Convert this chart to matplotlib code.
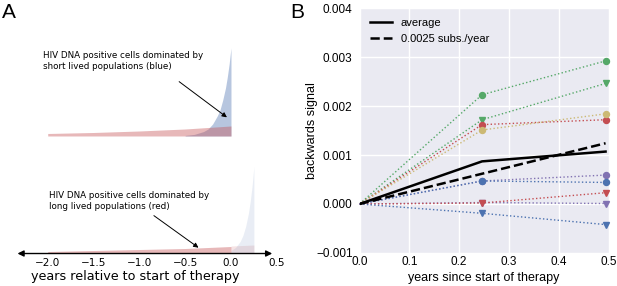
import numpy as np
import matplotlib
matplotlib.use('Agg')
import matplotlib.pyplot as plt

# panel A: densities (arbitrary height units)
short_t = [-0.5, -0.4, -0.3, -0.25, -0.2, -0.15, -0.12, -0.09, -0.06, -0.04, -0.02, 0.0]
short_h = [0.6, 1.6, 4.4, 7, 12, 20, 26, 36, 48, 59, 72, 88]
long_t = [-2.0, -1.5, -1.0, -0.5, -0.25, 0.0]
long_h_top = [2.5, 3.5, 5, 7, 8.5, 10]
long_h_bot = [2, 3, 4, 5, 6, 7]
post_t = [0.0, 0.25]
post_h = [7.5, 8.5]
spike_t = [0.0, 0.05, 0.1, 0.13, 0.16, 0.19, 0.21, 0.23, 0.25]
spike_h = [3, 6, 12, 18, 27, 40, 52, 67, 87]
a_ticks = [-2.0, -1.5, -1.0, -0.5, 0.0, 0.5]

# panel B: backwards signal per sample
times = [0.0, 0.246, 0.494]
series = [
    ('#55A868', 'o', [0, 0.00223, 0.00292]),
    ('#55A868', 'v', [0, 0.00172, 0.00246]),
    ('#C44E52', 'o', [0, 0.00162, 0.00172]),
    ('#CCB974', 'o', [0, 0.00151, 0.00184]),
    ('#8172B2', 'o', [0, 0.00047, 0.00059]),
    ('#4C72B0', 'o', [0, 0.00047, 0.00044]),
    ('#8172B2', 'v', [0, 0.00003, 0.00001]),
    ('#C44E52', 'v', [0, 0.00002, 0.00023]),
    ('#4C72B0', 'v', [0, -0.00019, -0.00042]),
]
average = [0, 0.00087, 0.00107]
rate_t = [0.0, 0.494]
rate_y = [0.0, 0.00124]

blue = '#4C72B0'
red = '#C44E52'

fig = plt.figure(figsize=(6.17, 2.86), dpi=100)

# ---- panel A, top ----
axt = fig.add_axes([0.0254, 0.5245, 0.4232, 0.3497])
axt.fill_between(short_t, short_h, color=blue, alpha=0.4, lw=0)
axt.fill_between(long_t, long_h_top, color=red, alpha=0.4, lw=0)
axt.set_xlim(-2.35, 0.5)
axt.set_ylim(0, 100)
axt.axis('off')
axt.annotate('HIV DNA positive cells dominated by\nshort lived populations (blue)',
             xy=(-0.02, 17), xytext=(-2.05, 85), fontsize=6.3, va='top', ha='left',
             family='DejaVu Sans', linespacing=1.3)
axt.annotate('', xy=(-0.02, 17), xytext=(-0.59, 56),
             arrowprops=dict(arrowstyle='-|>', color='k', lw=0.7, mutation_scale=7))

# ---- panel A, bottom ----
axb = fig.add_axes([0.0254, 0.1136, 0.4232, 0.3497])
axb.fill_between(long_t, long_h_bot, color=red, alpha=0.4, lw=0)
axb.fill_between(post_t, post_h, color=red, alpha=0.15, lw=0)
axb.fill_between(spike_t, spike_h, color=blue, alpha=0.12, lw=0)
axb.set_xlim(-2.35, 0.5)
axb.set_ylim(0, 100)
for s in axb.spines.values():
    s.set_visible(False)
axb.set_yticks([])
axb.set_xticks(a_ticks)
axb.tick_params(axis='x', length=0, pad=3.5, labelsize=7.5)
axb.set_xlabel('years relative to start of therapy', fontsize=9.2)
axb.xaxis.set_label_coords(0.459, -0.16)
axb.annotate('', xy=(0.45, 0), xytext=(-2.33, 0), annotation_clip=False,
             arrowprops=dict(arrowstyle='<|-|>', color='k', lw=1, mutation_scale=9,
                             shrinkA=0, shrinkB=0))
axb.annotate('HIV DNA positive cells dominated by\nlong lived populations (red)',
             xy=(-0.33, 4), xytext=(-1.99, 63), fontsize=6.3, va='top', ha='left',
             family='DejaVu Sans', linespacing=1.3)
axb.annotate('', xy=(-0.33, 4.2), xytext=(-0.866, 39.5),
             arrowprops=dict(arrowstyle='-|>', color='k', lw=0.7, mutation_scale=7))

# ---- panel B ----
ax = fig.add_axes([0.5827, 0.1154, 0.4036, 0.8566])
ax.set_facecolor('#EAEAF2')
ax.set_axisbelow(True)
ax.grid(color='white', lw=1)
for s in ax.spines.values():
    s.set_visible(False)
for col, mk, vals in series:
    ax.plot(times, vals, ls=':', lw=1, color=col, marker=mk, ms=4.3,
            markevery=[1, 2], clip_on=False)
ax.plot(times, average, color='k', lw=1.8, label='average')
ax.plot(rate_t, rate_y, color='k', lw=1.8, ls='--', label='0.0025 subs./year')
ax.set_xlim(0, 0.5)
ax.set_ylim(-0.001, 0.004)
ax.set_xticks([0.0, 0.1, 0.2, 0.3, 0.4, 0.5])
ax.set_yticks([-0.001, 0.0, 0.001, 0.002, 0.003, 0.004])
ax.set_yticklabels(['\u22120.001', '0.000', '0.001', '0.002', '0.003', '0.004'])
for lab in ax.get_xticklabels() + ax.get_yticklabels():
    lab.set_family('Liberation Sans')
ax.tick_params(axis='both', length=0, labelsize=8.5)
ax.tick_params(axis='x', pad=2)
ax.tick_params(axis='y', pad=5)
ax.set_xlabel('years since start of therapy', fontsize=9, family='Liberation Sans', labelpad=3)
ax.set_ylabel('backwards signal', fontsize=9, family='Liberation Sans')
ax.yaxis.set_label_coords(-0.168, 0.5)
ax.legend(loc='upper left', frameon=False, prop={'family': 'Liberation Sans', 'size': 8})

fig.text(0.003, 0.99, 'A', fontsize=15, family='Liberation Sans', va='top', ha='left')
fig.text(0.471, 0.99, 'B', fontsize=15, family='Liberation Sans', va='top', ha='left')

fig.savefig('out.png', dpi=100)
